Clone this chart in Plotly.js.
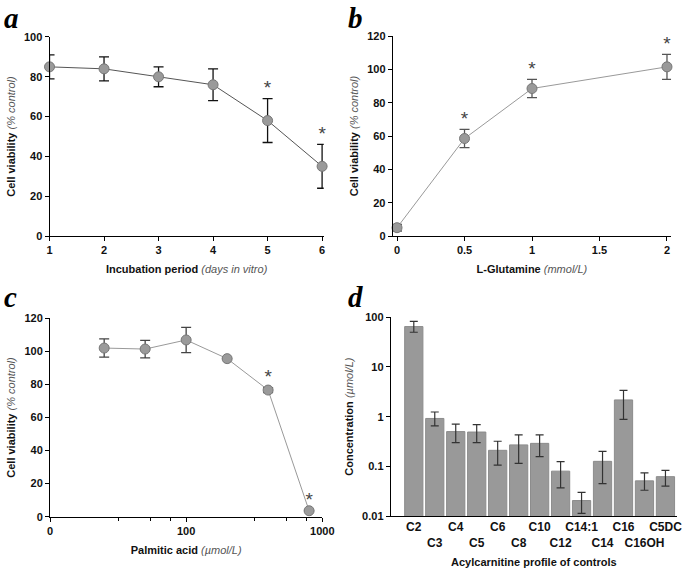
<!DOCTYPE html>
<html>
<head>
<meta charset="utf-8">
<script src="https://cdn.plot.ly/plotly-3.0.1.min.js"></script>
<style>
  html, body { margin: 0; padding: 0; background: #fff; }
  #chart { width: 685px; height: 569px; }
</style>
</head>
<body>
<div id="chart"></div>
<script>
// panel a: incubation period
const aDays = [1, 2, 3, 4, 5, 6];
const aViability = [85, 84, 80, 76, 58, 35];
const aError = [6, 6, 5, 8, 11, 11];
const aStarred = [5, 6];

// panel b: L-glutamine
const bGlutamine = [0, 0.5, 1, 2];
const bViability = [5, 58.5, 88.5, 101.5];
const bError = [2, 5.5, 5.5, 7.5];
const bStarred = [0.5, 1, 2];

// panel c: palmitic acid
const cPalmitic = [25, 50, 100, 200, 400, 800];
const cViability = [102, 101.4, 106.9, 95.6, 76.6, 3.6];
const cError = [5.5, 5.3, 7.6, 0, 1.5, 0];
const cStarred = [400, 800];
const cTickVals = [10, 100, 1000];
const cTickText = ["0", "100", "1000"];
const cMinorTicks = [32, 55, 77, 320, 550, 770];

// panel d: acylcarnitine profile
const dCarnitines = ["C2", "C3", "C4", "C5", "C6", "C8", "C10", "C12", "C14:1", "C14", "C16", "C16OH", "C5DC"];
const dConcentration = [65, 0.92, 0.5, 0.49, 0.21, 0.27, 0.29, 0.08, 0.0205, 0.126, 2.17, 0.051, 0.062];
const dUpper = [83, 1.24, 0.71, 0.69, 0.32, 0.43, 0.43, 0.124, 0.030, 0.20, 3.39, 0.074, 0.083];
const dLower = [50, 0.65, 0.30, 0.30, 0.106, 0.115, 0.157, 0.037, 0.0113, 0.045, 0.88, 0.033, 0.040];
const dTickVals = [0.01, 0.1, 1, 10, 100];
const dTickText = ["0.01", "0.1", "1", "10", "100"];

const FONT = "Liberation Sans, Arial, sans-serif";
const markerStyle = { size: 10, color: "#9a9a9a", line: { color: "#777", width: 1 } };

function starTrace(xs, ys, errs, starred, xaxis, yaxis) {
    const sx = [], sy = [];
    xs.forEach((x, i) => {
        if (starred.includes(x)) {
            sx.push(x);
            sy.push(ys[i] + errs[i]);
        }
    });
    return {
        x: sx, y: sy, xaxis, yaxis,
        type: "scatter", mode: "text", text: sx.map(() => "*"),
        textposition: "top center",
        textfont: { family: FONT, size: 19, color: "#444" },
        hoverinfo: "skip", showlegend: false, cliponaxis: false
    };
}

function lineTrace(xs, ys, errs, xaxis, yaxis, lineColor, errColor) {
    return {
        x: xs, y: ys, xaxis, yaxis,
        type: "scatter", mode: "lines+markers",
        line: { color: lineColor, width: 1 },
        marker: markerStyle,
        error_y: { type: "data", array: errs, visible: true, color: errColor, thickness: 1.3, width: 5 },
        showlegend: false, cliponaxis: false
    };
}

const traces = [
    lineTrace(aDays, aViability, aError, "x", "y", "#555", "#111"),
    starTrace(aDays, aViability, aError, aStarred, "x", "y"),
    lineTrace(bGlutamine, bViability, bError, "x2", "y2", "#999", "#555"),
    starTrace(bGlutamine, bViability, bError, bStarred, "x2", "y2"),
    lineTrace(cPalmitic, cViability, cError, "x3", "y3", "#999", "#444"),
    starTrace(cPalmitic, cViability, cError, cStarred, "x3", "y3"),
    {
        x: dCarnitines, y: dConcentration, xaxis: "x4", yaxis: "y4",
        type: "bar",
        marker: { color: "#999", line: { color: "#8c8c8c", width: 1 } },
        error_y: {
            type: "data", visible: true, symmetric: false,
            array: dUpper.map((u, i) => u - dConcentration[i]),
            arrayminus: dLower.map((l, i) => dConcentration[i] - l),
            color: "#333", thickness: 1.2, width: 4
        },
        showlegend: false
    }
];

const axisBase = {
    showline: true, linecolor: "#000", linewidth: 1,
    ticks: "outside", ticklen: 4, tickcolor: "#000",
    showgrid: false, zeroline: false, automargin: false,
    tickfont: { family: FONT, size: 11, color: "#111", weight: 700 }
};

function yTitle(text) {
    return {
        text: text, standoff: 6,
        font: { family: FONT, size: 11, color: "#111" }
    };
}
function xTitle(text) {
    return {
        text: text, standoff: 10,
        font: { family: FONT, size: 11, color: "#111" }
    };
}

const viabilityTitle = "<b>Cell viability</b> <i><span style='color:#555'>(% control)</span></i>";

function panelLetter(letter, x, y) {
    return {
        text: "<b><i>" + letter + "</i></b>", xref: "paper", yref: "paper",
        x: x / 685, y: 1 - y / 569, xanchor: "left", yanchor: "top",
        showarrow: false,
        font: { family: "Liberation Serif, DejaVu Serif, serif", size: 29, color: "#000" }
    };
}

const layout = {
    width: 685, height: 569,
    margin: { l: 0, r: 0, t: 0, b: 0 },
    paper_bgcolor: "#fff", plot_bgcolor: "#fff",
    bargap: 0.13,
    xaxis: {
        ...axisBase, domain: [0.0723, 0.4726], range: [1, 6.03], tickvals: aDays, anchor: "y",
        title: xTitle("<b>Incubation period</b> <i><span style='color:#555'>(days in vitro)</span></i>")
    },
    yaxis: {
        ...axisBase, domain: [0.5852, 0.9350], range: [0, 100], dtick: 20, anchor: "x",
        title: yTitle(viabilityTitle)
    },
    xaxis2: {
        ...axisBase, domain: [0.5733, 0.9796], range: [-0.032, 2.03], dtick: 0.5, anchor: "y2",
        title: xTitle("<b>L-Glutamine</b> <i><span style='color:#555'>(mmol/L)</span></i>")
    },
    yaxis2: {
        ...axisBase, domain: [0.5852, 0.9367], range: [0, 120], dtick: 20, anchor: "x2",
        title: yTitle(viabilityTitle)
    },
    xaxis3: {
        ...axisBase, type: "log", domain: [0.0730, 0.4705], range: [1, 3], anchor: "y3",
        tickvals: cTickVals, ticktext: cTickText,
        minor: { ticks: "outside", ticklen: 3, tickcolor: "#000", showgrid: false, tickvals: cMinorTicks },
        title: xTitle("<b>Palmitic acid</b> <i><span style='color:#555'>(µmol/L)</span></i>")
    },
    yaxis3: {
        ...axisBase, domain: [0.0919, 0.4406], range: [0, 120], dtick: 20, anchor: "x3",
        title: yTitle(viabilityTitle)
    },
    xaxis4: {
        ...axisBase, domain: [0.5704, 0.9883], range: [-1.1, 12.55], anchor: "y4",
        ticks: "", tickangle: 0, tickvals: dCarnitines,
        ticktext: dCarnitines.map((c, i) => (i % 2 === 0 ? c : "<br>" + c)),
        tickfont: { family: FONT, size: 12, color: "#111", weight: 700 },
        title: {
            text: "<b>Acylcarnitine profile of controls</b>", standoff: 9,
            font: { family: FONT, size: 11, color: "#111" }
        }
    },
    yaxis4: {
        ...axisBase, type: "log", domain: [0.0931, 0.4424], range: [-2, 2], anchor: "x4",
        tickvals: dTickVals, ticktext: dTickText,
        title: yTitle("<b>Concentration</b> <i><span style='color:#555'>(µmol/L)</span></i>")
    },
    annotations: [
        panelLetter("a", 2, 0),
        panelLetter("b", 346, 0),
        panelLetter("c", 2, 279),
        panelLetter("d", 346, 279)
    ]
};

Plotly.newPlot("chart", traces, layout, { displayModeBar: false, staticPlot: true });
</script>
</body>
</html>
